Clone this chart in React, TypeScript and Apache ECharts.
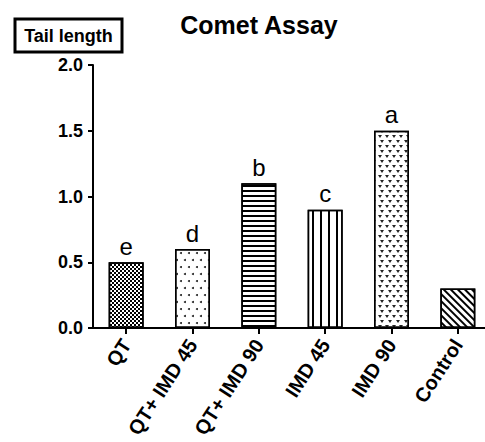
import React, { useEffect, useRef } from "react";
import * as echarts from "echarts";

const categories = ["QT", "QT+ IMD 45", "QT+ IMD 90", "IMD 45", "IMD 90", "Control"];
const values = [0.5, 0.6, 1.1, 0.9, 1.5, 0.3];
const letters = ["e", "d", "b", "c", "a", ""];
const yTicks = [0, 0.5, 1.0, 1.5, 2.0];
const titleText = "Comet Assay";
const yTitleText = "Tail length";

const FONT = "'Liberation Sans', Arial, Helvetica, sans-serif";

const decals: any[] = [
  {
    symbol: "rect",
    symbolSize: 1,
    color: "#000",
    dashArrayX: [[2, 2], [0, 2, 2, 0]],
    dashArrayY: [2, 0],
  },
  {
    symbol: "circle",
    symbolSize: 1,
    color: "#222",
    dashArrayX: [[1.5, 5.2], [0, 3.35, 1.5, 1.85]],
    dashArrayY: [1.5, 5],
  },
  {
    symbol: "rect",
    symbolSize: 1,
    color: "#000",
    dashArrayX: [1, 0],
    dashArrayY: [1.3, 3],
  },
  {
    symbol: "rect",
    symbolSize: 1,
    color: "#000",
    dashArrayX: [1.3, 5.6],
    dashArrayY: [1, 0],
  },
  {
    symbol: "path://M0,0L10,0L5,9Z",
    symbolSize: 1,
    symbolKeepAspect: false,
    color: "#222",
    dashArrayX: [[3.5, 3], [0, 3.25, 3.5, 0]],
    dashArrayY: [3, 1.2],
  },
  {
    symbol: "rect",
    symbolSize: 1,
    color: "#000",
    dashArrayX: [1, 0],
    dashArrayY: [1.3, 3],
    rotation: Math.PI / 4,
  },
];

export default function App() {
  const ref = useRef<HTMLDivElement>(null);
  useEffect(() => {
    if (!ref.current) return;
    const chart = echarts.init(ref.current, undefined, { renderer: "svg" });
    chart.setOption({
      animation: false,
      backgroundColor: "#fff",
      grid: {
        left: 93,
        right: -6,
        top: 65,
        bottom: 114,
        containLabel: false,
        outerBoundsMode: "none",
      },
      graphic: [
        {
          type: "text",
          x: 259,
          y: 25,
          style: {
            text: titleText,
            fill: "#000",
            font: `bold 25px ${FONT}`,
            textAlign: "center",
            textVerticalAlign: "middle",
            verticalAlign: "middle",
          },
        },
        {
          type: "rect",
          shape: { x: 15, y: 19, width: 107, height: 33 },
          style: { fill: "#fff", stroke: "#000", lineWidth: 3 },
        },
        {
          type: "text",
          x: 68.5,
          y: 36,
          style: {
            text: yTitleText,
            fill: "#000",
            font: `bold 18px ${FONT}`,
            textAlign: "center",
            textVerticalAlign: "middle",
            verticalAlign: "middle",
          },
        },
      ],
      xAxis: {
        type: "category",
        data: categories,
        axisLine: { show: true, lineStyle: { color: "#000", width: 2 } },
        axisTick: { show: true, alignWithLabel: true, length: 6, lineStyle: { color: "#000", width: 2 } },
        axisLabel: {
          rotate: 57,
          margin: 13,
          color: "#000",
          fontSize: 20,
          fontWeight: "bold",
          fontFamily: FONT,
          interval: 0,
        },
        splitLine: { show: false },
      },
      yAxis: {
        type: "value",
        min: yTicks[0],
        max: yTicks[yTicks.length - 1],
        interval: 0.5,
        axisLine: { show: true, lineStyle: { color: "#000", width: 2 } },
        axisTick: { show: true, length: 5, lineStyle: { color: "#000", width: 2 } },
        axisLabel: {
          margin: 10,
          color: "#000",
          fontSize: 18,
          fontWeight: "bold",
          fontFamily: FONT,
          formatter: (v: number) => v.toFixed(1),
        },
        splitLine: { show: false },
      },
      series: [
        {
          type: "bar",
          barWidth: 35,
          data: values.map((v, i) => ({
            value: v,
            itemStyle: {
              color: "#fff",
              borderColor: "#000",
              borderWidth: 1.5,
              decal: decals[i],
            },
            label: {
              show: letters[i] !== "",
              formatter: letters[i],
            },
          })),
          label: {
            show: true,
            position: "top",
            distance: 4,
            color: "#000",
            fontSize: 24,
            fontFamily: FONT,
          },
        },
      ],
    });
    return () => chart.dispose();
  }, []);
  return (
    <div
      ref={ref}
      style={{ position: "fixed", left: 0, top: 0, width: 485, height: 442 }}
    />
  );
}
